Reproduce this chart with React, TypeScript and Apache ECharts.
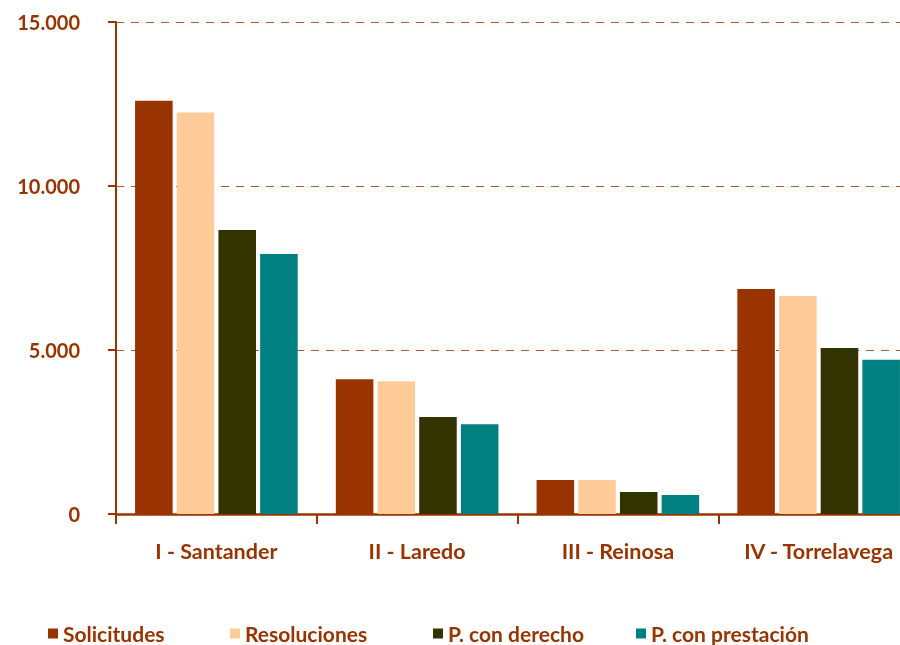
import React, { useEffect, useRef } from "react";
import * as echarts from "echarts";

const categories = ["I - Santander", "II - Laredo", "III - Reinosa", "IV - Torrelavega"];
const seriesNames = ["Solicitudes", "Resoluciones", "P. con derecho", "P. con prestación"];
const solicitudes = [12600, 4110, 1040, 6860];
const resoluciones = [12240, 4050, 1040, 6650];
const pConDerecho = [8660, 2960, 670, 5060];
const pConPrestacion = [7930, 2740, 580, 4700];
const colors = ["#993300", "#FFCC99", "#333300", "#008080"];
const legendLefts = [48, 230, 433, 636];

const FONT = "Lato";
const BROWN = "#993300";

export default function App() {
  const ref = useRef<HTMLDivElement>(null);
  useEffect(() => {
    if (!ref.current) return;
    const chart = echarts.init(ref.current, null, { renderer: "svg" });
    const values = [solicitudes, resoluciones, pConDerecho, pConPrestacion];
    chart.setOption({
      animation: false,
      textStyle: { fontFamily: FONT },
      grid: {
        left: 116,
        width: 803,
        top: 22,
        bottom: 131,
        containLabel: false,
        outerBoundsMode: "none",
      },
      legend: seriesNames.map((n, i) => ({
        data: [n],
        left: legendLefts[i],
        top: 623,
        padding: 0,
        icon: "rect",
        itemWidth: 10,
        itemHeight: 10,
        itemGap: 6,
        selectedMode: false,
        textStyle: { color: BROWN, fontWeight: "bold", fontSize: 21, lineHeight: 20, fontFamily: FONT },
      })),
      xAxis: {
        type: "category",
        data: categories,
        axisLine: { lineStyle: { color: BROWN, width: 2.5 } },
        axisTick: { show: true, length: 10, lineStyle: { color: BROWN, width: 2 } },
        axisLabel: { color: BROWN, fontWeight: "bold", fontSize: 21.5, margin: 26, fontFamily: FONT },
      },
      yAxis: {
        type: "value",
        min: 0,
        max: 15000,
        interval: 5000,
        axisLine: { show: true, lineStyle: { color: BROWN, width: 2 } },
        axisTick: { show: true, length: 8, lineStyle: { color: BROWN, width: 2 } },
        axisLabel: {
          color: BROWN,
          fontWeight: "bold",
          fontSize: 20,
          margin: 36,
          fontFamily: FONT,
          formatter: (v: number) => (v === 0 ? "0" : v.toLocaleString("de-DE")),
        },
        splitLine: { show: true, lineStyle: { color: "#a85a35", type: [8, 7], width: 1 } },
      },
      series: seriesNames.map((n, i) => ({
        name: n,
        type: "bar",
        data: values[i],
        itemStyle: { color: colors[i] },
        barCategoryGap: "19%",
        barGap: "11%",
      })),
    });
    return () => chart.dispose();
  }, []);
  return (
    <div
      ref={ref}
      style={{ position: "fixed", left: 0, top: 0, width: 900, height: 645, overflow: "hidden" }}
    />
  );
}
